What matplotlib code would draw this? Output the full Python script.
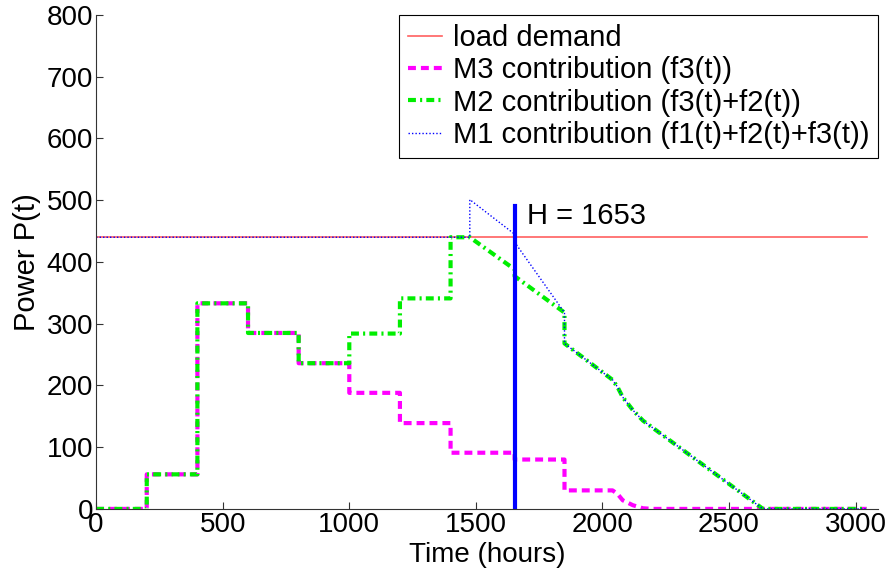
import matplotlib
matplotlib.use('Agg')
import matplotlib.pyplot as plt

plt.rcParams['font.family'] = ['Liberation Sans', 'DejaVu Sans']

# load demand
load_t = [0, 3043]
load_p = [440, 440]

# M3 contribution f3(t)
m3_t = [0, 200, 200, 400, 400, 600, 600, 800, 800, 1000, 1000, 1200, 1200,
        1400, 1400, 1653, 1653, 1850, 1850, 2040, 2060, 2080, 2120, 2160, 2200, 3043]
m3_p = [0, 0, 56, 56, 333, 333, 285, 285, 236, 236, 188, 188, 139,
        139, 91, 91, 80, 80, 30, 30, 24, 14, 6, 1, 0, 0]

# M2 contribution f3(t)+f2(t)
m2_t = [0, 200, 200, 400, 400, 600, 600, 800, 800, 1000, 1000, 1200, 1200,
        1400, 1400, 1476, 1653, 1653, 1850, 1850, 2040, 2060, 2080, 2120, 2160, 2634, 3043]
m2_p = [0, 0, 56, 56, 333, 333, 285, 285, 236, 236, 284, 284, 341,
        341, 440, 440, 388, 377, 318, 268, 209, 197, 181, 160, 143, 0, 0]

# M1 contribution f1(t)+f2(t)+f3(t)
m1_t = [0, 1476, 1476, 1653, 1653, 1850, 1850, 2040, 2060, 2080, 2120, 2160, 2634, 3043]
m1_p = [440, 440, 501, 445, 432, 318, 268, 209, 197, 181, 160, 143, 0, 0]

H = 1653
H_top = 490

fig = plt.figure(figsize=(8.9, 5.77), dpi=100)
ax = fig.add_axes([0.108, 0.118, 0.879, 0.856])

ax.plot(load_t, load_p, color='#ff6060', lw=1.2, label='load demand')
ax.plot(m3_t, m3_p, color='magenta', lw=3, dashes=(1.9, 1.2), label='M3 contribution (f3(t))')
ax.plot(m2_t, m2_p, color='#00ee00', lw=3, dashes=(1.9, 1.0, 0.5, 1.0),
        label='M2 contribution (f3(t)+f2(t))')
ax.plot(m1_t, m1_p, color='blue', lw=1.0, dashes=(1, 1.5),
        label='M1 contribution (f1(t)+f2(t)+f3(t))')
ax.plot([H, H], [0, H_top], color='blue', lw=3)
ax.text(1700, 474, 'H = %d' % H, fontsize=21, va='center', ha='left')

ax.set_xlim(0, 3090)
ax.set_ylim(0, 800)
ax.set_xticks(range(0, 3001, 500))
ax.set_yticks(range(0, 801, 100))
ax.tick_params(direction='in', length=5, labelsize=20, color='#333333', pad=2)
for s in ['top', 'right']:
    ax.spines[s].set_visible(False)
for s in ['left', 'bottom']:
    ax.spines[s].set_color('#333333')
ax.set_xlabel('Time (hours)', fontsize=20, labelpad=3)
ax.set_ylabel('Power P(t)', fontsize=21, labelpad=4)

leg = ax.legend(loc='upper right', fontsize=21, handlelength=1.15, handletextpad=0.4,
                borderaxespad=0, labelspacing=0.15, borderpad=0.3, fancybox=False,
                framealpha=1, edgecolor='black', bbox_to_anchor=(1.0, 1.0))
leg.get_frame().set_linewidth(0.8)

fig.savefig('out.png', dpi=100)
